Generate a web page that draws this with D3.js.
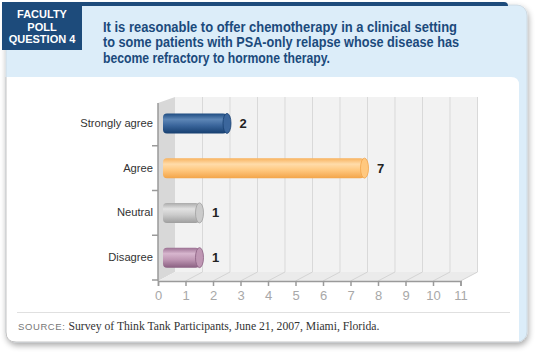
<!DOCTYPE html>
<html><head><meta charset="utf-8">
<script src="https://cdn.jsdelivr.net/npm/d3@7"></script>
<style>html,body{margin:0;padding:0;background:#fff;}svg{display:block;}</style>
</head><body>
<script>
const categories = ["Strongly agree", "Agree", "Neutral", "Disagree"];
const values = [2, 7, 1, 1];
const tickValues = [0,1,2,3,4,5,6,7,8,9,10,11];
const titleLines = ["It is reasonable to offer chemotherapy in a clinical setting",
  "to some patients with PSA-only relapse whose disease has",
  "become refractory to hormone therapy."];
const titleWidths = [354, 356, 227];
const badgeLines = ["FACULTY", "POLL", "QUESTION 4"];
const sourceLabel = "SOURCE:";
const sourceText = " Survey of Think Tank Participants, June 21, 2007, Miami, Florida.";
const barColors = [
  ["#1c4a80", "#5d86b6", "#3b669c", "#163f70"],
  ["#f8b15c", "#ffdcaa", "#ffc87f", "#f3a54a"],
  ["#a9a9a9", "#e2e2e2", "#cbcbcb", "#9f9f9f"],
  ["#9a6f91", "#d7b6ce", "#bf97b4", "#8a5f81"]
];

const W = 540, H = 357;
const svg = d3.select("body").append("svg").attr("width", W).attr("height", H);
const defs = svg.append("defs");
const f = defs.append("filter").attr("id","sh").attr("x","-10%").attr("y","-10%").attr("width","120%").attr("height","130%");
f.append("feGaussianBlur").attr("in","SourceAlpha").attr("stdDeviation",3);
f.append("feOffset").attr("dx",1).attr("dy",3).attr("result","b");
f.append("feComponentTransfer").append("feFuncA").attr("type","linear").attr("slope",0.35);
const fm = f.append("feMerge"); fm.append("feMergeNode"); fm.append("feMergeNode").attr("in","SourceGraphic");

// card
svg.append("rect").attr("x",6).attr("y",5).attr("width",521).attr("height",337).attr("rx",10)
  .attr("fill","#dcedf9").attr("stroke","#c9d5de").attr("stroke-width",0.8).attr("filter","url(#sh)");
svg.append("path").attr("d","M6,77 H511 Q519,77 519,85 V342 H16 Q6,342 6,332 Z")
  .attr("fill","#fff");
svg.append("path").attr("d","M6,77 V332 Q6,342 16,342 H519").attr("fill","none").attr("stroke","#c4c4c4").attr("stroke-width",1);
// top dark bar
svg.append("path").attr("d","M2,2 H504 Q508,2 508,6 H2 Z").attr("fill","#1d4b7b");
svg.append("rect").attr("x",2).attr("y",2).attr("width",80).attr("height",48).attr("fill","#1d4b7b");
svg.selectAll("text.badge").data(badgeLines).join("text").attr("class","badge")
  .attr("x",42).attr("y",(d,i)=>18+i*12.5).attr("text-anchor","middle")
  .attr("font-family","Liberation Sans, Arial, sans-serif").attr("font-weight","bold")
  .attr("font-size",11).attr("fill","#fff").text(d=>d);
svg.selectAll("text.title").data(titleLines).join("text").attr("class","title")
  .attr("x",103).attr("y",(d,i)=>31.5+i*15.6)
  .attr("textLength",(d,i)=>titleWidths[i]).attr("lengthAdjust","spacingAndGlyphs")
  .attr("font-family","Liberation Sans, Arial, sans-serif").attr("font-weight","bold")
  .attr("font-size",14).attr("fill","#1b4a7c").text(d=>d);

// chart geometry
const DX = 17, DY = -9;
const x = d3.scaleLinear().domain([0, 11]).range([158, 460.5]);
const xb = v => x(v) + DX;
const y = d3.scaleBand().domain(categories).range([101, 280]);
const yFront = 281, yBackBottom = yFront + DY, yTop = 97;

const g = svg.append("g");
g.append("rect").attr("x", xb(0)).attr("y", yTop).attr("width", xb(11)-xb(0)).attr("height", yBackBottom-yTop).attr("fill","#f2f2f2");
g.append("path").attr("d",`M${x(0)},103 L${xb(0)},${yTop} L${xb(0)},${yBackBottom} L${x(0)},${yFront} Z`).attr("fill","#d8d8d8");
g.append("path").attr("d",`M${x(0)},${yFront} L${x(11)},${yFront} L${xb(11)},${yBackBottom} L${xb(0)},${yBackBottom} Z`).attr("fill","#ebebeb");
g.selectAll("line.grid").data(tickValues.slice(1)).join("line").attr("class","grid")
  .attr("x1",d=>xb(d)).attr("x2",d=>xb(d)).attr("y1",yTop).attr("y2",yBackBottom)
  .attr("stroke","#d9d9d9").attr("stroke-width",1);
g.selectAll("line.floor").data(tickValues.slice(1)).join("line").attr("class","floor")
  .attr("x1",d=>x(d)).attr("x2",d=>xb(d)).attr("y1",yFront).attr("y2",yBackBottom)
  .attr("stroke","#d4d4d4").attr("stroke-width",1);

// bottom axis
const xAxis = d3.axisBottom(x).tickValues(tickValues).tickSize(5).tickPadding(5).tickFormat(d3.format("d"));
const ax = svg.append("g").attr("transform",`translate(0,${yFront})`).call(xAxis);
ax.select(".domain").attr("stroke","#9a9a9a").attr("stroke-width",1.5);
ax.selectAll(".tick line").attr("stroke","#9a9a9a").attr("stroke-width",1.5);
ax.selectAll(".tick text").attr("fill","#a8a8a8").attr("font-size",13)
  .attr("font-family","Liberation Sans, Arial, sans-serif");

// left axis
const yAxis = d3.axisLeft(y).tickSize(0).tickPadding(5);
const ay = svg.append("g").attr("transform",`translate(${x(0)},0)`).call(yAxis);
ay.select(".domain").remove();
ay.selectAll(".tick text").attr("fill","#333").attr("font-size",11.2)
  .attr("font-family","Liberation Sans, Arial, sans-serif");
svg.append("line").attr("x1",x(0)).attr("x2",x(0)).attr("y1",103).attr("y2",yFront).attr("stroke","#9a9a9a").attr("stroke-width",1.5);
const seps = categories.slice(1).map(c => y(c)).concat([280]);
svg.selectAll("line.sep").data(seps).join("line").attr("class","sep")
  .attr("x1",x(0)-6).attr("x2",x(0)).attr("y1",d=>d).attr("y2",d=>d)
  .attr("stroke","#9a9a9a").attr("stroke-width",1.5);

// bars
barColors.forEach((c,i)=>{
  const gr = defs.append("linearGradient").attr("id","bg"+i).attr("x1",0).attr("x2",0).attr("y1",0).attr("y2",1);
  [[0,c[0]],[0.3,c[1]],[0.6,c[2]],[1,c[3]]].forEach(s=>gr.append("stop").attr("offset",s[0]).attr("stop-color",s[1]));
});
const bh = 20;
const bars = svg.selectAll("g.bar").data(categories).join("g").attr("class","bar");
bars.append("rect")
  .attr("x", xb(0)-12).attr("y", d => y(d)+y.bandwidth()/2-bh/2)
  .attr("width", (d,i) => xb(values[i]) - 3 - (xb(0)-12)).attr("height", bh)
  .attr("rx",4).attr("fill",(d,i)=>`url(#bg${i})`);
bars.append("ellipse")
  .attr("cx",(d,i)=>xb(values[i])-3).attr("cy",d=>y(d)+y.bandwidth()/2)
  .attr("rx",4).attr("ry",bh/2).attr("fill",(d,i)=>barColors[i][2])
  .attr("stroke",(d,i)=>barColors[i][3]).attr("stroke-width",0.8);
bars.append("text")
  .attr("x",(d,i)=>xb(values[i])+13).attr("y",d=>y(d)+y.bandwidth()/2).attr("dy","0.35em")
  .attr("text-anchor","middle").attr("font-weight","bold").attr("font-size",13)
  .attr("font-family","Liberation Sans, Arial, sans-serif").attr("fill","#222")
  .text((d,i)=>values[i]);

// source
svg.append("line").attr("x1",17).attr("x2",510).attr("y1",312.5).attr("y2",312.5).attr("stroke","#e0e0e0");
const st = svg.append("text").attr("x",18).attr("y",330);
st.append("tspan").attr("font-family","Liberation Sans, Arial, sans-serif").attr("font-size",9.5)
  .attr("letter-spacing",0.6).attr("fill","#777").text(sourceLabel);
st.append("tspan").attr("font-family","Liberation Serif, Times New Roman, serif").attr("font-size",11.7)
  .attr("fill","#333").text(sourceText);
</script>
</body></html>
